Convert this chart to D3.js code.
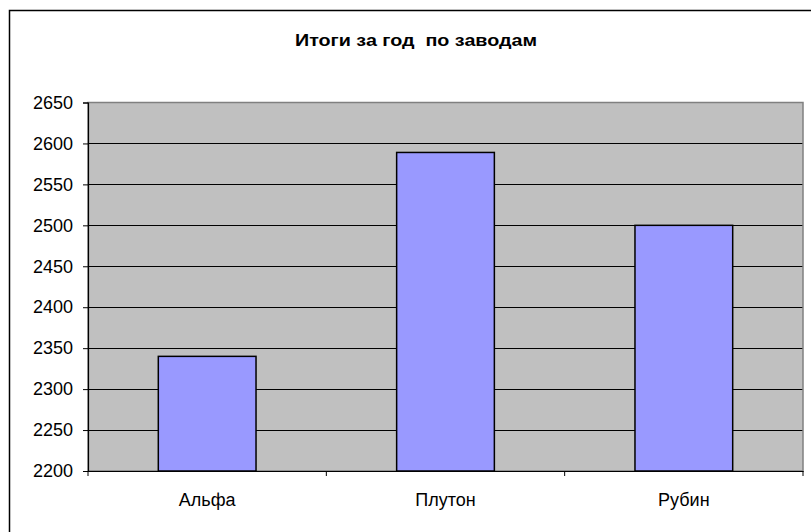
<!DOCTYPE html>
<html><head><meta charset="utf-8">
<script src="https://cdn.jsdelivr.net/npm/d3@7"></script>
<style>body{margin:0;background:#fff}svg{display:block}text{font-family:"Liberation Sans",Arial,sans-serif}</style>
</head><body>
<svg id="c" width="811" height="532"></svg>
<script>
const title = "Итоги за год  по заводам";
const categories = ["Альфа", "Плутон", "Рубин"];
const values = [2340, 2589, 2500];
const yTicks = [2200, 2250, 2300, 2350, 2400, 2450, 2500, 2550, 2600, 2650];

const svg = d3.select("#c");
// outer frame
svg.append("rect").attr("x", 9.5).attr("y", 10.5).attr("width", 820).attr("height", 540)
  .attr("fill", "#fff").attr("stroke", "#000").attr("stroke-width", 1.5);

svg.append("text").attr("x", 416).attr("y", 46).attr("text-anchor", "middle")
  .style("white-space", "pre").attr("xml:space", "preserve")
  .attr("font-size", 16).attr("font-weight", "bold").attr("textLength", 242)
  .attr("lengthAdjust", "spacingAndGlyphs").text(title);

const L = 88, R = 803, T = 102.5, B = 471;
const x = d3.scaleBand().domain(categories).range([L, R]).paddingInner(0.59).paddingOuter(0.295);
const y = d3.scaleLinear().domain([2200, 2650]).range([B, T]);

svg.append("rect").attr("x", L).attr("y", T).attr("width", R - L).attr("height", B - T)
  .attr("fill", "#C0C0C0");

// gridlines
svg.append("g").selectAll("line").data(yTicks.slice(1, -1)).join("line")
  .attr("x1", L).attr("x2", R).attr("y1", d => Math.round(y(d)) + 0.5).attr("y2", d => Math.round(y(d)) + 0.5)
  .attr("stroke", "#000").attr("stroke-width", 1);

svg.append("rect").attr("x", L).attr("y", T).attr("width", R - L).attr("height", B - T)
  .attr("fill", "none").attr("stroke", "#808080").attr("stroke-width", 1.5);

// bars
svg.append("g").selectAll("rect").data(categories).join("rect")
  .attr("x", d => x(d)).attr("width", x.bandwidth())
  .attr("y", (d, i) => y(values[i])).attr("height", (d, i) => B - y(values[i]))
  .attr("fill", "#9999FF").attr("stroke", "#000").attr("stroke-width", 1.5);

// y axis
const yAxis = d3.axisLeft(y).tickValues(yTicks).tickSize(5).tickPadding(10).tickFormat(d3.format("d"));
const gy = svg.append("g").attr("transform", `translate(${L},0)`).call(yAxis);
gy.select(".domain").attr("stroke", "#000").attr("stroke-width", 1.2);
gy.selectAll(".tick line").attr("stroke", "#000");
gy.selectAll("text").attr("font-size", 18).attr("fill", "#000").attr("font-family", "Liberation Sans, Arial, sans-serif");

// x axis
const xAxis = d3.axisBottom(x).tickSize(0).tickPadding(22);
const gx = svg.append("g").attr("transform", `translate(0,${B})`).call(xAxis);
gx.select(".domain").attr("stroke", "#000").attr("stroke-width", 1.2);
gx.selectAll("text").attr("font-size", 18).attr("fill", "#000").attr("font-family", "Liberation Sans, Arial, sans-serif");
// boundary ticks between categories
const bounds = d3.range(categories.length + 1).map(i => L + i * (R - L) / categories.length);
svg.append("g").selectAll("line").data(bounds).join("line")
  .attr("x1", d => d).attr("x2", d => d).attr("y1", B).attr("y2", B + 5)
  .attr("stroke", "#000");
</script>
</body></html>
